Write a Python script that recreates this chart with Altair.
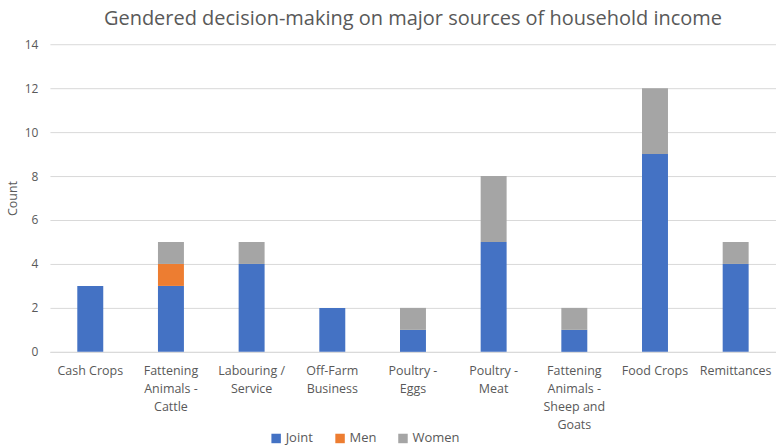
import altair as alt
import pandas as pd

categories = ["Cash Crops", "Fattening|Animals -|Cattle", "Labouring /|Service", "Off-Farm|Business",
              "Poultry -|Eggs", "Poultry -|Meat", "Fattening|Animals -|Sheep and|Goats", "Food Crops", "Remittances"]
joint = [3, 3, 4, 2, 1, 5, 1, 9, 4]
men = [0, 1, 0, 0, 0, 0, 0, 0, 0]
women = [0, 1, 1, 0, 1, 3, 1, 3, 1]
series = ["Joint", "Men", "Women"]
colors = ["#4472C4", "#ED7D31", "#A5A5A5"]

rows = []
for i, c in enumerate(categories):
    for k, (s, vals) in enumerate(zip(series, [joint, men, women])):
        rows.append({"cat": c, "series": s, "value": vals[i], "ord": k})
df = pd.DataFrame(rows)

FONT = "Open Sans"
chart = alt.Chart(df).mark_bar(size=26).encode(
    x=alt.X("cat:N", sort=categories, title=None,
            axis=alt.Axis(labelExpr="split(datum.label, '|')", labelAngle=0, labelFont=FONT,
                          labelFontSize=12.5, labelColor="#595959", labelLineHeight=18,
                          labelPadding=13, ticks=False, domainColor="#d9d9d9", labelLimit=200)),
    y=alt.Y("value:Q", stack="zero", title="Count",
            scale=alt.Scale(domain=[0, 14]),
            axis=alt.Axis(values=list(range(0, 15, 2)), labelFont=FONT, labelFontSize=12,
                          labelColor="#595959", titleFont=FONT, titleFontSize=12.5,
                          titleFontWeight="normal", titleColor="#595959", gridColor="#d9d9d9",
                          domain=False, ticks=False, labelPadding=12, titlePadding=5)),
    color=alt.Color("series:N", scale=alt.Scale(domain=series, range=colors),
                    legend=alt.Legend(title=None, orient="none", direction="horizontal",
                                      legendX=220, legendY=388, symbolType="square",
                                      symbolSize=90, symbolStrokeWidth=0, labelFont=FONT,
                                      labelFontSize=13, labelColor="#595959",
                                      columnPadding=20, labelOffset=3)),
    order=alt.Order("ord:Q"),
).properties(
    width=727, height=308,
    title=alt.TitleParams("Gendered decision-making on major sources of household income",
                          font=FONT, fontSize=20, fontWeight="normal", color="#595959",
                          anchor="middle", offset=9),
    autosize=alt.AutoSizeParams(type="none"),
    padding={"left": 50, "top": 44, "right": 0, "bottom": 95},
).configure_view(stroke=None)

chart.save("out.html", embed_options={"renderer": "svg", "actions": False})
